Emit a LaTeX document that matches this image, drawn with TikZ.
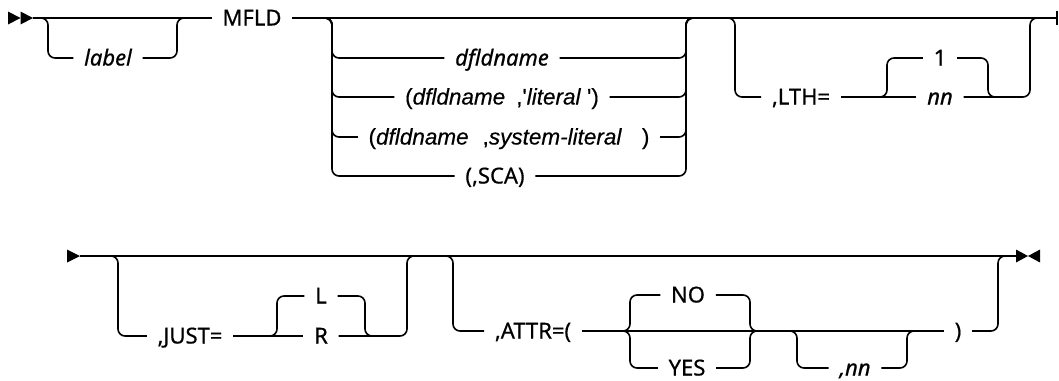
\documentclass[tikz,border=0pt]{standalone}
\usepackage{fontspec}
\setmainfont{Noto Sans}[FakeBold=0.6]
\newfontfamily\arialf{Liberation Sans}[FakeBold=0.4]
\begin{document}
\begin{tikzpicture}[x=1pt,y=-1pt, line width=1.6pt,
  rc/.style={rounded corners=7pt},
  kw/.style={inner xsep=10pt, inner ysep=0pt, text height=15pt, text depth=0pt, font=\fontsize{22}{24}\selectfont},
  var/.style={kw, font=\fontsize{22}{24}\selectfont\itshape},
  lit/.style={kw, font=\fontsize{22.5}{26}\selectfont\arialf}]
\useasboundingbox (0,0) rectangle (1059,380);
% ---------- row 1 ----------
\coordinate (s1) at (33,18);
\fill (8,11.5) -- (20.5,18) -- (8,24.5) -- cycle;
\fill (20.5,11.5) -- (33,18) -- (20.5,24.5) -- cycle;
\node[kw] (mfld) at (252,18) {MFLD};
\node[var] (label) at (108,58) {label};
\draw (s1) -- (mfld.west);
\draw[rc] (40,18) -- (48,18) -- (48,58) -- (label.west);
\draw[rc] (label.east) -- (177,58) -- (177,18) -- (185,18);
\coordinate (e1) at (1057,18);
\draw (mfld.east) -- (e1);
\draw (1057,11) -- (1057,25);
% choice
\node[var] (c1) at (502,58) {dfldname};
\node[lit] (c2) at (502,97) {(\textit{dfldname}\hspace{11pt},\textquotesingle\textit{literal}\hspace{6pt}\textquotesingle)};
\node[lit] (c3) at (509,137) {(\textit{dfldname}\hspace{14pt},\textit{system-literal}\hspace{20pt})};
\node[kw] (c4) at (495,176) {(,SCA)};
\foreach \n/\y in {c1/58,c2/97,c3/137,c4/176} {
  \draw[rc] (324,18) -- (332,18) -- (332,\y) -- (\n.west);
  \draw[rc] (\n.east) -- (686,\y) -- (686,18) -- (694,18);
}
% LTH
\node[kw] (lth) at (801,97) {,LTH=};
\node[var] (nn1) at (940,97) {nn};
\node[kw] (one) at (940,58) {1};
\draw[rc] (727,18) -- (735,18) -- (735,97) -- (lth.west);
\draw (lth.east) -- (nn1.west);
\draw[rc] (879,97) -- (887,97) -- (887,58) -- (one.west);
\draw[rc] (one.east) -- (988,58) -- (988,97) -- (996,97);
\draw[rc] (nn1.east) -- (1030,97) -- (1030,18) -- (1038,18);
% ---------- row 2 ----------
\fill (67,249.5) -- (80,256) -- (67,262.5) -- cycle;
\coordinate (s2) at (80,256);
\coordinate (e2) at (1017,256);
\draw (s2) -- (e2);
\fill (1016,249.5) -- (1028,256) -- (1016,262.5) -- cycle;
\fill (1040,249.5) -- (1028,256) -- (1040,262.5) -- cycle;
% JUST
\node[kw] (just) at (190,336) {,JUST=};
\node[kw] (R) at (321,336) {R};
\node[kw] (L) at (321,296) {L};
\draw[rc] (110,256) -- (118,256) -- (118,336) -- (just.west);
\draw (just.east) -- (R.west);
\draw[rc] (269,336) -- (277,336) -- (277,296) -- (L.west);
\draw[rc] (L.east) -- (365,296) -- (365,336) -- (373,336);
\draw[rc] (R.east) -- (407,336) -- (407,256) -- (415,256);
% ATTR
\node[kw] (attr) at (533,331) {,ATTR=(};
\node[kw] (no) at (688,295) {NO};
\node[kw] (yes) at (687,368) {YES};
\node[var] (nn2) at (855,368) {,nn};
\node[kw] (rp) at (958,331) {)};
\draw[rc] (445,256) -- (453,256) -- (453,331) -- (attr.west);
\draw (attr.east) -- (rp.west);
\draw[rc] (622,331) -- (630,331) -- (630,295) -- (no.west);
\draw[rc] (622,331) -- (630,331) -- (630,368) -- (yes.west);
\draw[rc] (no.east) -- (750,295) -- (750,331) -- (758,331);
\draw[rc] (yes.east) -- (750,368) -- (750,331) -- (758,331);
\draw[rc] (789,331) -- (797,331) -- (797,368) -- (nn2.west);
\draw[rc] (nn2.east) -- (907,368) -- (907,331) -- (915,331);
\draw[rc] (rp.east) -- (998,331) -- (998,256) -- (1006,256);
\end{tikzpicture}
\end{document}
